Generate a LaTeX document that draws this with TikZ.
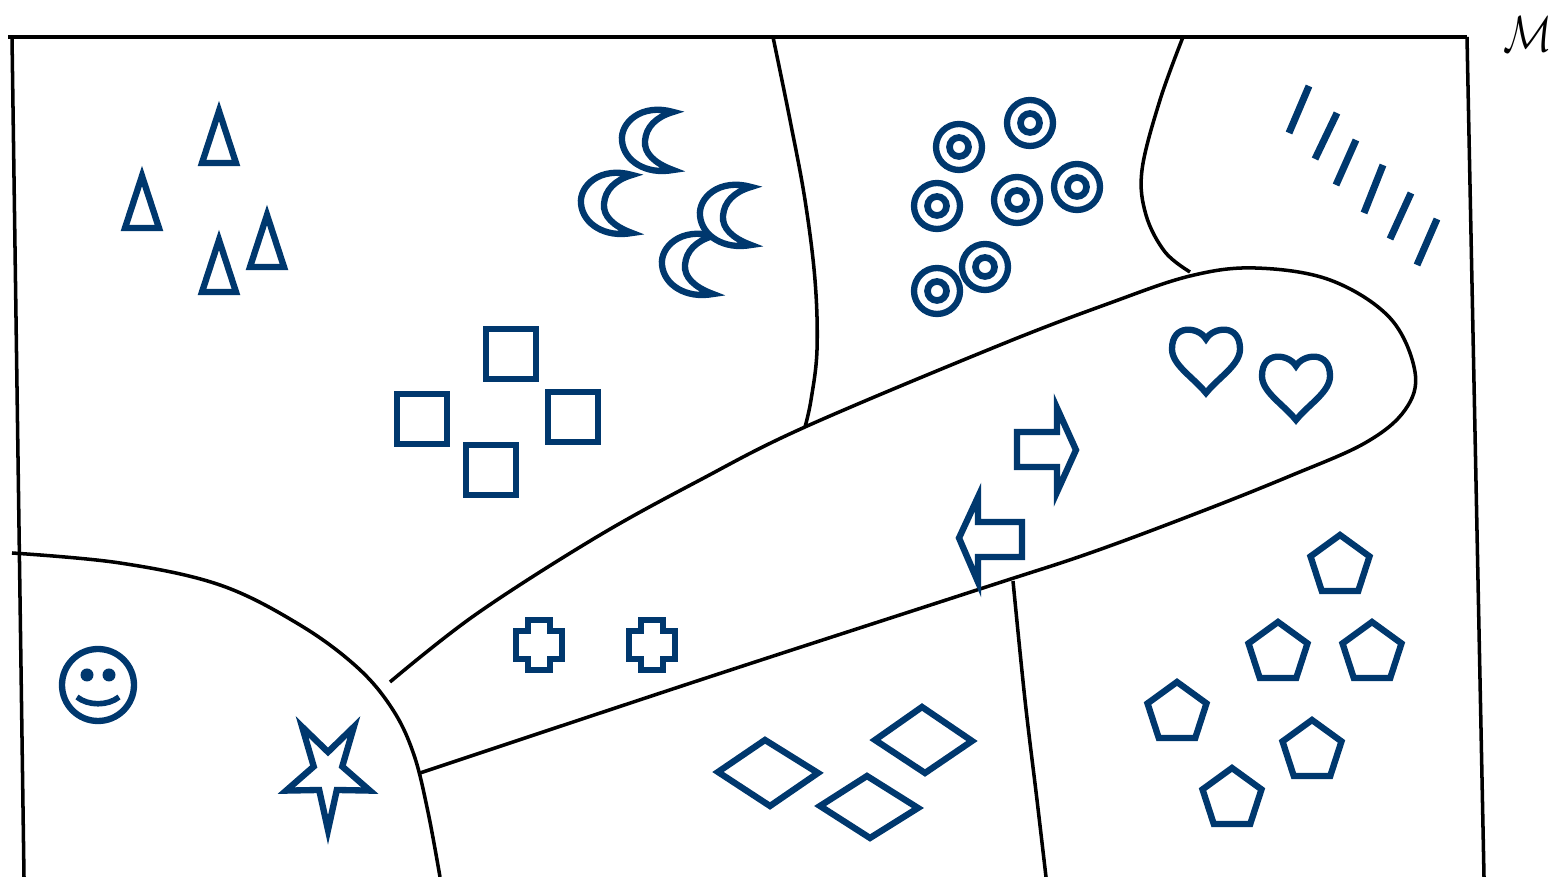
\documentclass[tikz,border=0pt]{standalone}
\definecolor{shapeblue}{RGB}{0,56,110}
\begin{document}
\begin{tikzpicture}[x=0.01cm,y=-0.01cm,
  blackline/.style={draw=black,line width=1pt},
  blueline/.style={draw=shapeblue,line width=1.8pt,line join=miter,fill=white},
  tickline/.style={draw=shapeblue,line width=2pt},
  tri/.pic={\draw[blueline] (0,-24) -- (17,28) -- (-17,28) -- cycle;},
  moon/.pic={\draw[blueline] (27,-29) .. controls (-5,-38) and (-26,-18) .. (-24,0)
      .. controls (-22,20) and (0,34) .. (27,29)
      .. controls (8,22) and (-2,12) .. (-1,0)
      .. controls (0,-14) and (10,-24) .. cycle;},
  ring/.pic={\draw[blueline] (0,0) circle[radius=23];
      \draw[draw=shapeblue,line width=1.9pt] (0,0) circle[radius=9.5];},
  sq/.pic={\draw[blueline] (-25,-25) rectangle (25,25);},
  heart/.pic={\draw[blueline] (0,-22) .. controls (7,-34) and (34,-38) .. (34,-12)
      .. controls (34,4) and (13,16) .. (0,32)
      .. controls (-13,16) and (-34,4) .. (-34,-12)
      .. controls (-34,-38) and (-7,-34) .. cycle;},
  crossshape/.pic={\draw[blueline] (-11,-25) -- (11,-25) -- (11,-14) -- (23,-14) -- (23,14)
      -- (11,14) -- (11,25) -- (-11,25) -- (-11,14) -- (-23,14) -- (-23,-14) -- (-11,-14) -- cycle;},
  penta/.pic={\draw[blueline] (270:31) -- (342:31) -- (54:31) -- (126:31) -- (198:31) -- cycle;},
  starshape/.pic={\draw[blueline] (90:44 and 57) -- (126:15 and 21) -- (162:44 and 57) -- (198:15 and 21)
      -- (234:44 and 57) -- (270:15 and 21) -- (306:44 and 57) -- (342:15 and 21)
      -- (18:44 and 57) -- (54:15 and 21) -- cycle;}
]
\useasboundingbox (0,0) rectangle (1557,877);

% frame
\draw[blackline] (8,37) -- (1467,37);
\draw[blackline] (12,37) -- (24,877);
\draw[blackline] (1467,37) -- (1484,877);

% region boundaries
\draw[blackline] plot[smooth,tension=0.6] coordinates {(773,37) (790,120) (805,200) (815,280) (817,350) (811,400) (805,427)};
\draw[blackline] plot[smooth,tension=0.6] coordinates {(1183,37) (1160,100) (1142,170) (1146,215) (1165,252) (1190,272)};
\draw[blackline] plot[smooth,tension=0.6] coordinates {(12,553) (120,563) (220,585) (300,625) (358,668) (393,710) (414,755) (428,812) (440,877)};
\draw[blackline] plot[smooth,tension=0.6] coordinates {(1013,581) (1025,700) (1037,800) (1046,877)};
% tube
\draw[blackline] plot[smooth,tension=0.6] coordinates {(390,682) (475,615) (595,538) (700,480) (805,427) (1000,345) (1110,303) (1190,276) (1255,268) (1330,280) (1390,318) (1415,372) (1405,410) (1365,443) (1290,476) (1200,512) (1090,553) (983,588) (700,680) (420,773)};

% label
\node[inner sep=0pt] (lbl) at (1528,34) {\fontsize{15}{18}\selectfont\scalebox{0.8}[1]{$\mathcal{M}$}};

% triangles
\pic at (219,135) {tri};
\pic at (142,200) {tri};
\pic at (219,264) {tri};
\pic at (267,239) {tri};

% moons
\pic at (686,265) {moon};
\pic at (646,141) {moon};
\pic at (605,204) {moon};
\pic at (724,216) {moon};

% rings
\pic at (959,147) {ring};
\pic at (1030,123) {ring};
\pic at (937,206) {ring};
\pic at (1017,200) {ring};
\pic at (1077,187) {ring};
\pic at (937,291) {ring};
\pic at (985,267) {ring};

% ticks
\draw[tickline] (1309,86) -- (1289,133);
\draw[tickline] (1337,113) -- (1315,159);
\draw[tickline] (1356,140) -- (1336,185);
\draw[tickline] (1383,165) -- (1364,213);
\draw[tickline] (1411,193) -- (1390,239);
\draw[tickline] (1437,219) -- (1417,265);

% squares
\pic at (511,354) {sq};
\pic at (422,419) {sq};
\pic at (573,417) {sq};
\pic at (491,470) {sq};

% hearts
\pic at (1206,361) {heart};
\pic at (1296,388) {heart};

% arrows
\draw[blueline] (1017,432) -- (1057,432) -- (1057,408) -- (1076,450) -- (1057,492) -- (1057,467) -- (1017,467) -- cycle;
\draw[blueline] (1022,522) -- (978,522) -- (978,497) -- (959,538) -- (978,582) -- (978,557) -- (1022,557) -- cycle;

% crosses
\pic at (539,645) {crossshape};
\pic at (652,645) {crossshape};

% diamonds
\draw[blueline] (718,772) -- (765,740) -- (818,773) -- (770,806) -- cycle;
\draw[blueline] (875,740) -- (922,707) -- (972,741) -- (925,773) -- cycle;
\draw[blueline] (820,806) -- (867,776) -- (918,808) -- (870,838) -- cycle;

% pentagons
\pic at (1340,566) {penta};
\pic at (1278,653) {penta};
\pic at (1372,653) {penta};
\pic at (1177,713) {penta};
\pic at (1312,751) {penta};
\pic at (1232,799) {penta};

% smiley
\draw[blueline] (98,685) circle[radius=36];
\fill[shapeblue] (87,675) circle[radius=6.5];
\fill[shapeblue] (109,675) circle[radius=6.5];
\draw[draw=shapeblue,line width=1.6pt] (77,697) .. controls (88,706) and (108,706) .. (119,697);

% star
\pic at (328,773) {starshape};
\end{tikzpicture}
\end{document}
